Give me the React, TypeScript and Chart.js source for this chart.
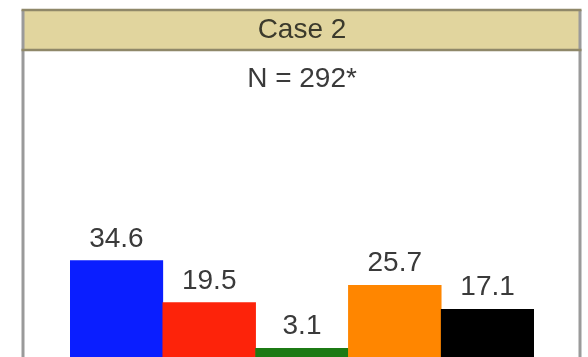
import React, { useEffect, useRef } from "react";
import { Chart, registerables } from "chart.js";

Chart.register(...registerables);

const categories = ["A", "B", "C", "D", "E"];
const values = [34.6, 19.5, 3.1, 25.7, 17.1];
const barColors = ["#0a1eff", "#fd230a", "#1c7a14", "#ff8600", "#000000"];
const titleText = "Case 2";
const subtitleText = "N = 292*";

const FONT = "'Liberation Sans', Arial, Helvetica, sans-serif";

const framePlugin = {
  id: "frame",
  beforeDraw(chart: any) {
    const ctx = chart.ctx;
    const w = chart.width;
    const h = chart.height;
    ctx.save();
    ctx.fillStyle = "#ffffff";
    ctx.fillRect(0, 0, w, h);
    const left = 23;
    const right = 580;
    const top = 10;
    const bandBottom = 50;
    // header band
    ctx.fillStyle = "#e1d59e";
    ctx.fillRect(left, top, right - left, bandBottom - top);
    // side borders
    ctx.strokeStyle = "#9a9a9a";
    ctx.lineWidth = 3;
    ctx.beginPath();
    ctx.moveTo(left, top);
    ctx.lineTo(left, h);
    ctx.moveTo(right, top);
    ctx.lineTo(right, h);
    ctx.stroke();
    // header lines
    ctx.strokeStyle = "#8f8869";
    ctx.lineWidth = 2.5;
    ctx.beginPath();
    ctx.moveTo(left - 1.5, top);
    ctx.lineTo(right + 1.5, top);
    ctx.moveTo(left - 1.5, bandBottom);
    ctx.lineTo(right + 1.5, bandBottom);
    ctx.stroke();
    ctx.restore();
  },
};

const labelPlugin = {
  id: "barLabels",
  afterDatasetsDraw(chart: any) {
    const ctx = chart.ctx;
    const meta = chart.getDatasetMeta(0);
    const data = chart.data.datasets[0].data;
    ctx.save();
    ctx.font = `28px ${FONT}`;
    ctx.fillStyle = "#3a3a3a";
    ctx.textAlign = "center";
    ctx.textBaseline = "alphabetic";
    meta.data.forEach((bar: any, i: number) => {
      ctx.fillText(Number(data[i]).toFixed(1), bar.x, bar.y - 14);
    });
    ctx.restore();
  },
};

export default function App() {
  const ref = useRef<HTMLCanvasElement | null>(null);
  useEffect(() => {
    if (!ref.current) return;
    const chart = new Chart(ref.current, {
      type: "bar",
      data: {
        labels: categories,
        datasets: [
          {
            data: values,
            backgroundColor: barColors,
            borderWidth: 0,
            categoryPercentage: 1,
            barPercentage: 1,
          },
        ],
      },
      options: {
        animation: false,
        responsive: false,
        maintainAspectRatio: false,
        layout: { padding: { left: 70, right: 54, top: 0, bottom: 0 } },
        plugins: {
          legend: { display: false },
          tooltip: { enabled: false },
          title: {
            display: true,
            text: titleText,
            color: "#3b3a2c",
            font: { family: FONT, size: 28, weight: "normal" },
            padding: { top: 13, bottom: 10 },
          },
          subtitle: {
            display: true,
            text: subtitleText,
            color: "#3a3a3a",
            font: { family: FONT, size: 28, weight: "normal" },
            padding: { top: 6, bottom: 10 },
          },
        },
        scales: {
          x: { display: false },
          y: { display: false, min: 0, max: 90 },
        },
      },
      plugins: [framePlugin, labelPlugin],
    });
    return () => chart.destroy();
  }, []);
  return (
    <div style={{ position: "fixed", left: 0, top: 0, width: 588, height: 357, background: "#fff" }}>
      <canvas ref={ref} width={588} height={357} style={{ display: "block" }} />
    </div>
  );
}
